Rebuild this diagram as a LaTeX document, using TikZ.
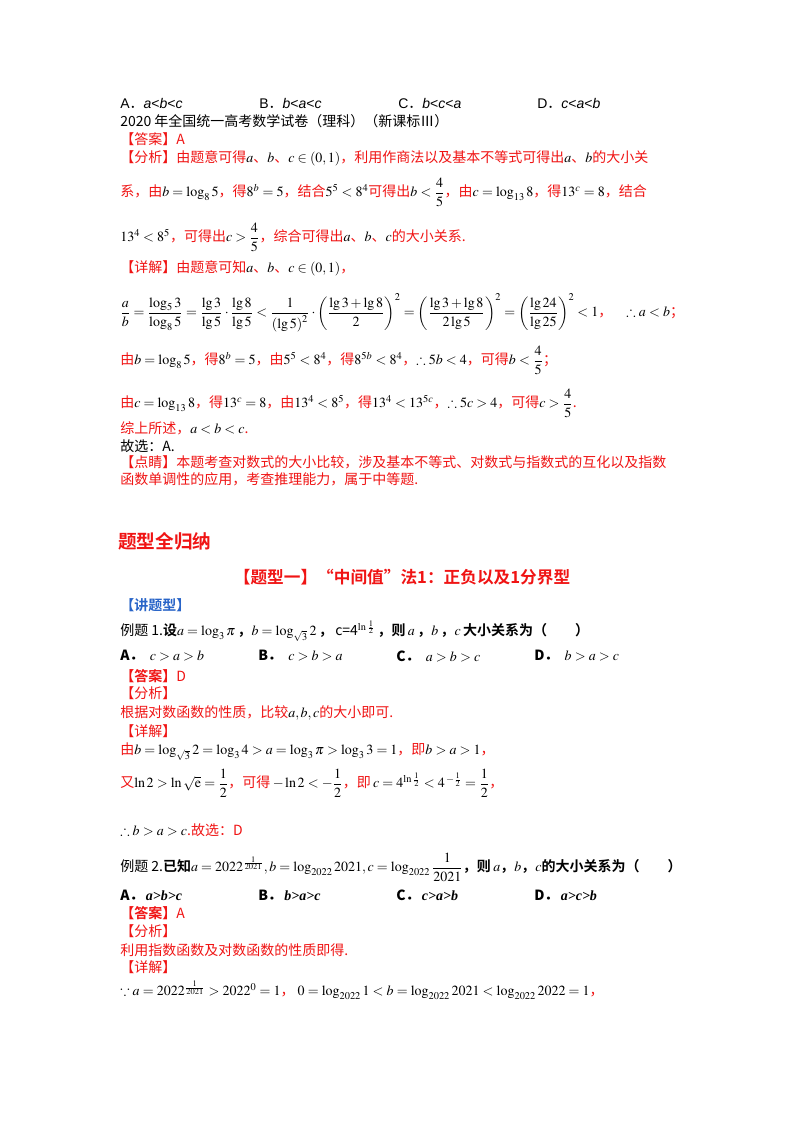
\documentclass[tikz,border=0pt]{standalone}
\usepackage{amsmath,amssymb}
\usepackage{mathptmx}
\usepackage{fontspec}
\setmainfont{Liberation Serif}
\newfontfamily\cjk{Noto Sans CJK SC}
\newfontfamily\cjkb{Noto Sans CJK SC Bold}
\newfontfamily\arial{Liberation Sans}
\definecolor{rd}{RGB}{240,20,20}
\definecolor{bl}{RGB}{40,100,200}
\newcommand\rr[1]{\textcolor{rd}{#1}}
\newcommand\bit[1]{{\rmfamily\bfseries\itshape #1}}
\tikzset{t/.style={anchor=west,inner sep=0pt,font=\cjk\fontsize{10.5}{12}\selectfont},
 rt/.style={t,text=rd}}
\begin{document}
\begin{tikzpicture}[x=0.75pt,y=-0.75pt]
\useasboundingbox[fill=white] (0,0) rectangle (800,1132);
% top options
\node[t] (o1) at (120,103) {\arial A{\cjk ．}\textit{a}<\textit{b}<\textit{c}};
\node[t] (o2) at (259,103) {\arial B{\cjk ．}\textit{b}<\textit{a}<\textit{c}};
\node[t] (o3) at (398,103) {\arial C{\cjk ．}\textit{b}<\textit{c}<\textit{a}};
\node[t] (o4) at (537,103) {\arial D{\cjk ．}\textit{c}<\textit{a}<\textit{b}};
\node[t] (src) at (120,121) {2020 年全国统一高考数学试卷（理科）（新课标Ⅲ）};
\node[rt] (ans) at (120,139) {【答案】A};
\node[rt] (an1) at (120,158) {【分析】由题意可得\textcolor{black}{$a$}、\textcolor{black}{$b$}、\textcolor{black}{$c\in\left(0,1\right)$}，利用作商法以及基本不等式可得出\textcolor{black}{$a$}、\textcolor{black}{$b$}的大小关};
\node[rt] (an2) at (120,192) {系，由\textcolor{black}{$b=\log_8 5$}，得\textcolor{black}{$8^b=5$}，结合\textcolor{black}{$5^5<8^4$}可得出\textcolor{black}{$b<\dfrac45$}，由\textcolor{black}{$c=\log_{13}8$}，得\textcolor{black}{$13^c=8$}，结合};
\node[rt] (an3) at (120,237) {\textcolor{black}{$13^4<8^5$}，可得出\textcolor{black}{$c>\dfrac45$}，综合可得出\textcolor{black}{$a$}、\textcolor{black}{$b$}、\textcolor{black}{$c$}的大小关系.};
\node[rt] (d1) at (120,268) {【详解】由题意可知\textcolor{black}{$a$}、\textcolor{black}{$b$}、\textcolor{black}{$c\in\left(0,1\right)$}，};
\node[t] (d2) at (120,313) {$\dfrac ab=\dfrac{\log_5 3}{\log_8 5}=\dfrac{\lg 3}{\lg 5}\cdot\dfrac{\lg 8}{\lg 5}<\dfrac{1}{\left(\lg 5\right)^2}\cdot\left(\dfrac{\lg 3+\lg 8}{2}\right)^2=\left(\dfrac{\lg 3+\lg 8}{2\lg 5}\right)^2=\left(\dfrac{\lg 24}{\lg 25}\right)^2<1$\rr{，}\quad $\therefore a<b$\rr{；}};
\node[rt] (d3) at (120,360) {由\textcolor{black}{$b=\log_8 5$}，得\textcolor{black}{$8^b=5$}，由\textcolor{black}{$5^5<8^4$}，得\textcolor{black}{$8^{5b}<8^4$}，\textcolor{black}{$\therefore 5b<4$}，可得\textcolor{black}{$b<\dfrac45$}；};
\node[rt] (d4) at (120,403) {由\textcolor{black}{$c=\log_{13} 8$}，得\textcolor{black}{$13^c=8$}，由\textcolor{black}{$13^4<8^5$}，得\textcolor{black}{$13^4<13^{5c}$}，\textcolor{black}{$\therefore 5c>4$}，可得\textcolor{black}{$c>\dfrac45$}.};
\node[rt] (d5) at (120,428) {综上所述，\textcolor{black}{$a<b<c$}.};
\node[t] (d6) at (120,446) {故选：A.};
\node[rt] (p1) at (120,462) {【点睛】本题考查对数式的大小比较，涉及基本不等式、对数式与指数式的互化以及指数};
\node[rt] (p2) at (120,479) {函数单调性的应用，考查推理能力，属于中等题.};
% section
\node[t,text=rd,font=\cjkb\fontsize{14}{16}\selectfont] (h1) at (118,541) {题型全归纳};
\node[anchor=center,inner sep=0pt,text=rd,font=\cjkb\fontsize{12.5}{14}\selectfont] (h2) at (402,577) {【题型一】“中间值”法1：正负以及1分界型};
\node[t,text=bl,font=\cjkb\fontsize{10.5}{12}\selectfont] (h3) at (120,605) {【讲题型】};
\node[t] (e1) at (120,631) {例题 1.{\cjkb 设}$a=\log_3\pi$\,{\cjkb ，}$b=\log_{\sqrt3}2$\,{\cjkb ，}\,c=4$^{\ln\frac12}$\,{\cjkb ，则}\,$\boldsymbol{a}$\,{\cjkb ，}$\boldsymbol{b}$\,{\cjkb ，}$\boldsymbol{c}$\,{\cjkb 大小关系为（\qquad ）}};
\node[t] (e1a) at (120,656) {\textbf{A．}\ \ $c>a>b$};
\node[t] (e1b) at (258,656) {\textbf{B．}\ \ $c>b>a$};
\node[t] (e1c) at (396,656) {\textbf{C．}\ \ $a>b>c$};
\node[t] (e1d) at (534,656) {\textbf{D．}\ \ $b>a>c$};
\node[rt] (e1ans) at (120,676) {{\cjkb 【答案】}D};
\node[rt] (e1f) at (120,693) {【分析】};
\node[rt] (e1f2) at (120,713) {根据对数函数的性质，比较\textcolor{black}{$a,b,c$}的大小即可.};
\node[rt] (e1x) at (120,731) {【详解】};
\node[rt] (e1x1) at (120,752) {由\textcolor{black}{$b=\log_{\sqrt3}2=\log_3 4>a=\log_3\pi>\log_3 3=1$}，即\textcolor{black}{$b>a>1$}，};
\node[rt] (e1x2) at (120,783) {又\textcolor{black}{$\ln 2>\ln\sqrt{\mathrm e}=\dfrac12$}，可得\,\textcolor{black}{$-\ln 2<-\dfrac12$}，即\,\textcolor{black}{$c=4^{\ln\frac12}<4^{\,-\frac12}=\dfrac12$}，};
\node[rt] (e1x3) at (120,830) {\textcolor{black}{$\therefore b>a>c$}.故选：D};
\node[t] (e2) at (120,867) {例题 2.{\cjkb 已知}$a=2022^{\frac{1}{2021}},b=\log_{2022}2021,c=\log_{2022}\dfrac{1}{2021}${\cjkb ，则}\,$\boldsymbol{a}${\cjkb ，}$\boldsymbol{b}${\cjkb ，}$\boldsymbol{c}${\cjkb 的大小关系为（\qquad ）}};
\node[t] (e2a) at (120,895) {\textbf{A．}\,\bit{a>b>c}};
\node[t] (e2b) at (258,895) {\textbf{B．}\,\bit{b>a>c}};
\node[t] (e2c) at (396,895) {\textbf{C．}\,\bit{c>a>b}};
\node[t] (e2d) at (534,895) {\textbf{D．}\,\bit{a>c>b}};
\node[rt] (e2ans) at (120,913) {{\cjkb 【答案】}A};
\node[rt] (e2f) at (120,931) {【分析】};
\node[rt] (e2f2) at (120,950) {利用指数函数及对数函数的性质即得.};
\node[rt] (e2x) at (120,967) {【详解】};
\node[rt] (e2x1) at (120,990) {\textcolor{black}{$\because a=2022^{\frac{1}{2021}}>2022^0=1$}，\ \textcolor{black}{$0=\log_{2022}1<b=\log_{2022}2021<\log_{2022}2022=1$}，};
\end{tikzpicture}
\end{document}
